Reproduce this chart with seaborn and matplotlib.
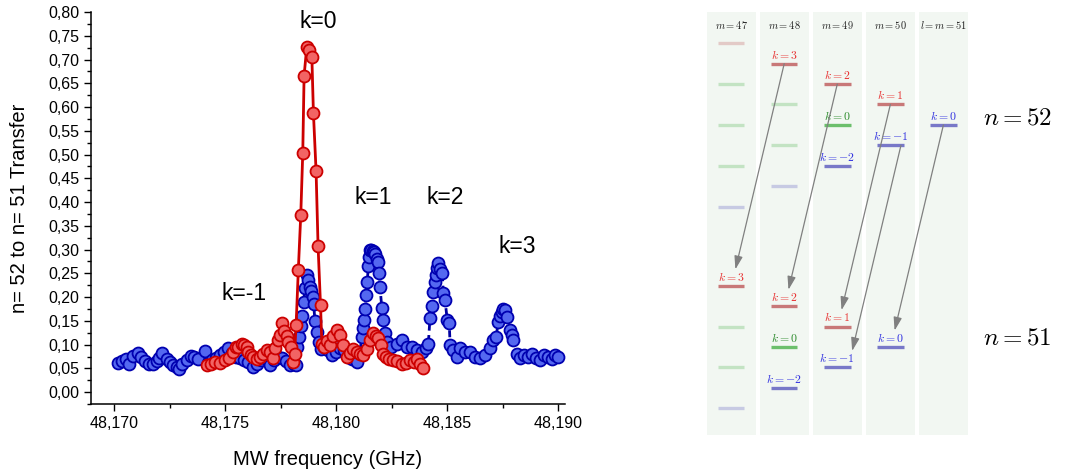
import numpy as np
import pandas as pd
import seaborn as sns
import matplotlib.pyplot as plt
from matplotlib.ticker import MultipleLocator, FuncFormatter
from matplotlib.patches import Rectangle

# ---- spectrum: blue scan (wide) ----
blue_freq = [
    48.17019, 48.17037, 48.17053, 48.17068, 48.17087, 48.17109, 48.17122, 48.17140, 48.17155, 48.17174,
    48.17192, 48.17200, 48.17218, 48.17237, 48.17252, 48.17267, 48.17282, 48.17293, 48.17308, 48.17327,
    48.17347, 48.17362, 48.17380, 48.17410, 48.17425, 48.17441, 48.17460, 48.17477, 48.17495, 48.17514,
    48.17532, 48.17550, 48.17568, 48.17586, 48.17604, 48.17626, 48.17644, 48.17662, 48.17680, 48.17703,
    48.17721, 48.17739, 48.17757, 48.17775, 48.17793, 48.17811, 48.17820, 48.17824, 48.17833, 48.17840,
    48.17847, 48.17854, 48.17860, 48.17867, 48.17874, 48.17881, 48.17887, 48.17894, 48.17899, 48.17905,
    48.17914, 48.17923, 48.17932, 48.17946, 48.17964, 48.17982, 48.18000, 48.18018, 48.18036, 48.18054,
    48.18072, 48.18093, 48.18108, 48.18116, 48.18122, 48.18126, 48.18131, 48.18135, 48.18141, 48.18145,
    48.18149, 48.18153, 48.18159, 48.18165, 48.18171, 48.18176, 48.18183, 48.18190, 48.18194, 48.18198,
    48.18206, 48.18213, 48.18221, 48.18228, 48.18248, 48.18273, 48.18296, 48.18318, 48.18341, 48.18364,
    48.18386, 48.18405, 48.18416, 48.18423, 48.18431, 48.18438, 48.18446, 48.18450, 48.18456, 48.18461,
    48.18468, 48.18479, 48.18483, 48.18491, 48.18501, 48.18510, 48.18514, 48.18528, 48.18544, 48.18559,
    48.18581, 48.18604, 48.18626, 48.18649, 48.18671, 48.18694, 48.18709, 48.18721, 48.18731, 48.18739,
    48.18746, 48.18754, 48.18761, 48.18772, 48.18784, 48.18791, 48.18799, 48.18814, 48.18829, 48.18847,
    48.18865, 48.18883, 48.18901, 48.18919, 48.18937, 48.18955, 48.18973, 48.18986, 48.19000]
blue_transfer = [
    0.062, 0.066, 0.069, 0.059, 0.076, 0.083, 0.073, 0.066, 0.060, 0.060,
    0.066, 0.071, 0.083, 0.069, 0.064, 0.057, 0.053, 0.048, 0.060, 0.067,
    0.076, 0.073, 0.069, 0.087, 0.062, 0.068, 0.072, 0.078, 0.085, 0.092,
    0.082, 0.075, 0.072, 0.068, 0.063, 0.052, 0.060, 0.068, 0.072, 0.057,
    0.068, 0.075, 0.072, 0.065, 0.057, 0.060, 0.058, 0.095, 0.116, 0.140,
    0.160, 0.190, 0.220, 0.246, 0.235, 0.222, 0.212, 0.200, 0.185, 0.150,
    0.127, 0.105, 0.090, 0.095, 0.088, 0.078, 0.085, 0.092, 0.088, 0.075,
    0.070, 0.064, 0.085, 0.116, 0.135, 0.152, 0.175, 0.205, 0.232, 0.265,
    0.285, 0.299, 0.300, 0.297, 0.294, 0.291, 0.281, 0.274, 0.250, 0.222,
    0.178, 0.152, 0.124, 0.106, 0.095, 0.102, 0.109, 0.095, 0.095, 0.088,
    0.085, 0.092, 0.102, 0.155, 0.181, 0.211, 0.232, 0.246, 0.262, 0.271,
    0.260, 0.250, 0.208, 0.194, 0.152, 0.145, 0.099, 0.088, 0.074, 0.092,
    0.085, 0.085, 0.074, 0.071, 0.078, 0.092, 0.109, 0.116, 0.148, 0.160,
    0.169, 0.175, 0.173, 0.158, 0.131, 0.120, 0.109, 0.081, 0.072, 0.078,
    0.075, 0.080, 0.072, 0.068, 0.078, 0.075, 0.070, 0.078, 0.075]

# ---- spectrum: red scan (narrow, around k=0) ----
red_freq = [
    48.17418, 48.17437, 48.17455, 48.17477, 48.17500, 48.17518, 48.17537, 48.17550, 48.17560, 48.17575,
    48.17586, 48.17598, 48.17605, 48.17616, 48.17626, 48.17643, 48.17658, 48.17673, 48.17689, 48.17703,
    48.17715, 48.17725, 48.17740, 48.17748, 48.17755, 48.17766, 48.17778, 48.17784, 48.17796, 48.17805,
    48.17813, 48.17820, 48.17830, 48.17841, 48.17850, 48.17856, 48.17868, 48.17880, 48.17891, 48.17898,
    48.17910, 48.17919, 48.17930, 48.17936, 48.17946, 48.17959, 48.17973, 48.17986, 48.18003, 48.18018,
    48.18032, 48.18049, 48.18063, 48.18077, 48.18093, 48.18108, 48.18122, 48.18139, 48.18153, 48.18168,
    48.18180, 48.18190, 48.18203, 48.18213, 48.18225, 48.18239, 48.18258, 48.18275, 48.18296, 48.18315,
    48.18333, 48.18351, 48.18365, 48.18378, 48.18393]
red_transfer = [
    0.057, 0.060, 0.064, 0.062, 0.067, 0.072, 0.085, 0.094, 0.095, 0.102,
    0.100, 0.095, 0.085, 0.078, 0.075, 0.069, 0.075, 0.081, 0.088, 0.085,
    0.071, 0.092, 0.109, 0.120, 0.146, 0.128, 0.118, 0.105, 0.095, 0.064,
    0.081, 0.141, 0.257, 0.373, 0.503, 0.666, 0.726, 0.721, 0.705, 0.588,
    0.465, 0.307, 0.183, 0.102, 0.095, 0.108, 0.100, 0.118, 0.131, 0.120,
    0.100, 0.074, 0.082, 0.090, 0.085, 0.080, 0.078, 0.090, 0.110, 0.124,
    0.118, 0.113, 0.100, 0.081, 0.075, 0.070, 0.067, 0.065, 0.060, 0.062,
    0.067, 0.064, 0.070, 0.060, 0.050]

peak_labels = ['k=-1', 'k=0', 'k=1', 'k=2', 'k=3']
peak_label_freq = [48.17586, 48.17919, 48.18167, 48.18491, 48.18815]
peak_label_y = [0.208, 0.780, 0.410, 0.410, 0.307]

# ---- level scheme (n=52 -> n=51) ----
col_m = [47, 48, 49, 50, 51]
col_titles = [r'$m = 47$', r'$m = 48$', r'$m = 49$', r'$m = 50$', r'$l = m = 51$']

up_m = [47, 47, 47, 47, 47, 48, 48, 48, 48, 49, 49, 49, 50, 50, 51]
up_k = [4, 2, 0, -2, -4, 3, 1, -1, -3, 2, 0, -2, 1, -1, 0]
up_col = ['r', 'g', 'g', 'g', 'b', 'r', 'g', 'g', 'b', 'r', 'g', 'b', 'r', 'b', 'b']
up_lab = [0, 0, 0, 0, 0, 1, 0, 0, 0, 1, 1, 1, 1, 1, 1]

low_m = [47, 47, 47, 47, 48, 48, 48, 49, 49, 50]
low_k = [3, 1, -1, -3, 2, 0, -2, 1, -1, 0]
low_col = ['r', 'g', 'g', 'b', 'r', 'g', 'b', 'r', 'b', 'b']
low_lab = [1, 0, 0, 0, 1, 1, 1, 1, 1, 1]

trans_m = [48, 49, 50, 50, 51]
trans_k = [3, 2, 1, -1, 0]

manifold_gap = 10.88

sns.set_style('ticks')
plt.rcParams['font.family'] = ['Liberation Sans', 'DejaVu Sans']
plt.rcParams.update({'text.color': 'black', 'axes.labelcolor': 'black',
                     'xtick.color': 'black', 'ytick.color': 'black'})

fig = plt.figure(figsize=(10.66, 4.72), dpi=100)
ax = fig.add_axes([0.0854, 0.144, 0.4447, 0.8306])

blue = pd.DataFrame({'freq': blue_freq, 'transfer': blue_transfer})
red = pd.DataFrame({'freq': red_freq, 'transfer': red_transfer})

sns.lineplot(data=blue, x='freq', y='transfer', ax=ax, estimator=None, sort=False,
             color='#0000a0', lw=2.0, linestyle=(0, (2.5, 1.6)), marker='o', markersize=8.6,
             markerfacecolor='#5468f0', markeredgecolor='#0000b0', markeredgewidth=1.3, zorder=2)
sns.lineplot(data=red, x='freq', y='transfer', ax=ax, estimator=None, sort=False,
             color='#cc0000', lw=2.0, marker='o', markersize=8.6,
             markerfacecolor='#f26464', markeredgecolor='#cc0000', markeredgewidth=1.3, zorder=3)

for lab, fx, fy in zip(peak_labels, peak_label_freq, peak_label_y):
    ax.text(fx, fy, lab, ha='center', va='center', fontsize=16.5)

ax.set_xlim(48.16896, 48.19032)
ax.set_ylim(-0.025, 0.80)
ax.xaxis.set_major_locator(MultipleLocator(0.005))
ax.xaxis.set_minor_locator(MultipleLocator(0.0025))
ax.yaxis.set_major_locator(MultipleLocator(0.05))
ax.yaxis.set_minor_locator(MultipleLocator(0.025))
ax.xaxis.set_major_formatter(FuncFormatter(lambda v, _: f'{v:.3f}'.replace('.', ',')))
ax.yaxis.set_major_formatter(FuncFormatter(lambda v, _: f'{v:.2f}'.replace('.', ',')))
ax.tick_params(which='major', direction='out', length=5, width=1, labelsize=11.5,
               color='black', labelcolor='black')
ax.tick_params(which='minor', direction='out', length=3, width=1, color='black')
ax.set_xlabel('MW frequency (GHz)', fontsize=14.5, color='black', labelpad=14)
ax.set_ylabel('n= 52 to n= 51 Transfer', fontsize=14.5, color='black', labelpad=14)
for s in ['left', 'bottom']:
    ax.spines[s].set_color('black')
    ax.spines[s].set_linewidth(1.1)
sns.despine(ax=ax)

# ---- right: level diagram ----
ax2 = fig.add_axes([0.661, 0.0, 0.339, 1.0])
ax2.set_xlim(-0.5, 6.31)
ax2.set_ylim(-6.13, 17.0)
ax2.axis('off')

bar_col = {'r': '#c87878', 'g': '#6cbf6c', 'b': '#7878c8'}
txt_col = {'r': '#e83030', 'g': '#2a8a2a', 'b': '#3030e0'}

for m, title in zip(col_m, col_titles):
    x = m - 47
    ax2.add_patch(Rectangle((x - 0.462, -4.31), 0.924, 20.73, color='#f2f7f2', lw=0, zorder=0))
    ax2.text(x, 15.78, title, ha='center', va='center', fontsize=7.5, color='#222222',
             math_fontfamily='cm')


def draw_levels(ms, ks, cs, labs, offset):
    for m, k, c, lab in zip(ms, ks, cs, labs):
        x = m - 47
        y = k + offset
        ax2.plot([x - 0.25, x + 0.25], [y, y], color=bar_col[c], lw=2.4,
                 alpha=1.0 if lab else 0.35, solid_capstyle='butt', zorder=2)
        if lab:
            ax2.text(x, y + 0.1, rf'$k = {k}$', ha='center', va='bottom', fontsize=8.5,
                     color=txt_col[c], math_fontfamily='cm', zorder=3)


draw_levels(up_m, up_k, up_col, up_lab, manifold_gap)
draw_levels(low_m, low_k, low_col, low_lab, 0.0)

for m, k in zip(trans_m, trans_k):
    dx0 = 0.2 if k < 0 else 0.0
    dx1 = 0.28 if k < 0 else 0.08
    ax2.annotate('', xy=(m - 48 + dx1, k + 0.8), xytext=(m - 47 + dx0, k + manifold_gap),
                 arrowprops=dict(arrowstyle='-|>,head_length=0.8,head_width=0.25',
                                 color='#808080', lw=0.9, shrinkA=0, shrinkB=0), zorder=4)

ax2.text(5.39, 11.23, r'$n = 52$', ha='center', va='center', fontsize=18, math_fontfamily='cm')
ax2.text(5.39, 0.44, r'$n = 51$', ha='center', va='center', fontsize=18, math_fontfamily='cm')

fig.savefig('out.png', dpi=100)
